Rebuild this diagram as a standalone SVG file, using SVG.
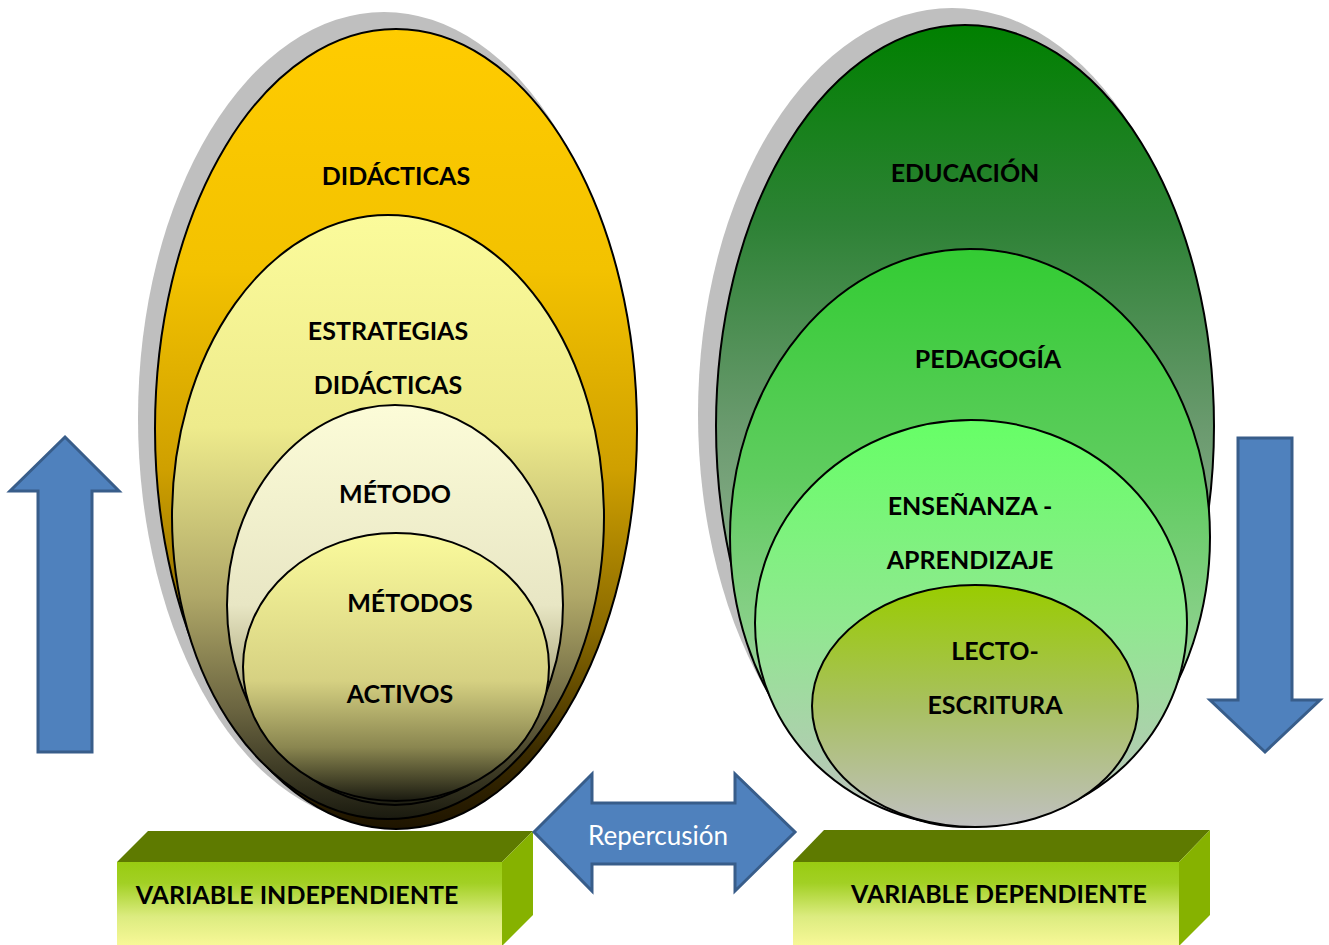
<svg xmlns="http://www.w3.org/2000/svg" width="1329" height="945" viewBox="0 0 1329 945">
<defs>
<linearGradient id="gO" x1="0" y1="0" x2="0" y2="1">
<stop offset="0" stop-color="#FFCC00"/><stop offset="0.3" stop-color="#F3C200"/><stop offset="0.55" stop-color="#CFA000"/><stop offset="0.75" stop-color="#8A6A00"/><stop offset="0.9" stop-color="#3D2D00"/><stop offset="1" stop-color="#1E1400"/>
</linearGradient>
<linearGradient id="gY2" x1="0" y1="0" x2="0" y2="1">
<stop offset="0" stop-color="#FBFB9B"/><stop offset="0.35" stop-color="#EEEB8C"/><stop offset="0.63" stop-color="#B0A868"/><stop offset="0.82" stop-color="#6A6440"/><stop offset="1" stop-color="#1A1A0F"/>
</linearGradient>
<linearGradient id="gY3" x1="0" y1="0" x2="0" y2="1">
<stop offset="0" stop-color="#FCFCD8"/><stop offset="0.5" stop-color="#E8E6C4"/><stop offset="0.75" stop-color="#A09C70"/><stop offset="1" stop-color="#1E1E12"/>
</linearGradient>
<linearGradient id="gY4" x1="0" y1="0" x2="0" y2="1">
<stop offset="0" stop-color="#FAFA9C"/><stop offset="0.55" stop-color="#D6D182"/><stop offset="0.8" stop-color="#8A8650"/><stop offset="1" stop-color="#1A1A10"/>
</linearGradient>
<linearGradient id="gG1" x1="0" y1="0" x2="0" y2="1">
<stop offset="0" stop-color="#008000"/><stop offset="0.25" stop-color="#2E8236"/><stop offset="0.5" stop-color="#6A9A6E"/><stop offset="0.75" stop-color="#98B898"/><stop offset="1" stop-color="#C0C8C0"/>
</linearGradient>
<linearGradient id="gG2" x1="0" y1="0" x2="0" y2="1">
<stop offset="0" stop-color="#33CC33"/><stop offset="0.4" stop-color="#60CC60"/><stop offset="0.7" stop-color="#90D090"/><stop offset="1" stop-color="#C0C8C0"/>
</linearGradient>
<linearGradient id="gG3" x1="0" y1="0" x2="0" y2="1">
<stop offset="0" stop-color="#66FF66"/><stop offset="0.5" stop-color="#90E890"/><stop offset="1" stop-color="#C0C0C0"/>
</linearGradient>
<linearGradient id="gG4" x1="0" y1="0" x2="0" y2="1">
<stop offset="0" stop-color="#99CC00"/><stop offset="0.5" stop-color="#A8C060"/><stop offset="1" stop-color="#C0C0C0"/>
</linearGradient>
<linearGradient id="gBox" x1="0" y1="0" x2="0" y2="1">
<stop offset="0" stop-color="#99CC11"/><stop offset="0.25" stop-color="#A2D024"/><stop offset="0.65" stop-color="#DCEC80"/><stop offset="1" stop-color="#F8F898"/>
</linearGradient>
<style>
.e{stroke:#000;stroke-width:2}
.sh{fill:#BFBFBF}
.t{font-family:Lato,"Liberation Sans",sans-serif;font-weight:bold;font-size:25px;fill:#000;text-anchor:middle}
.arr{fill:#4F81BD;stroke:#385D8A;stroke-width:3;stroke-linejoin:miter}
.top{fill:#5E7A00}
.side{fill:#86B200}
.front{fill:url(#gBox)}
</style>
</defs>

<g id="left-ellipses">
<ellipse class="sh" cx="384" cy="418" rx="246" ry="406"/>
<g id="didacticas">
<ellipse class="e" fill="url(#gO)" cx="396" cy="429" rx="241" ry="400"/>
<text class="t" x="396" y="185">DIDÁCTICAS</text>
</g>
<g id="estrategias">
<ellipse class="e" fill="url(#gY2)" cx="388" cy="517" rx="216" ry="302"/>
<text class="t" x="388" y="340">ESTRATEGIAS</text>
<text class="t" x="388" y="394">DIDÁCTICAS</text>
</g>
<g id="metodo">
<ellipse class="e" fill="url(#gY3)" cx="395" cy="605" rx="168" ry="200"/>
<text class="t" x="395" y="503">MÉTODO</text>
</g>
<g id="metodos-activos">
<ellipse class="e" fill="url(#gY4)" cx="396" cy="667" rx="153" ry="134"/>
<text class="t" x="410" y="612">MÉTODOS</text>
<text class="t" x="400" y="703">ACTIVOS</text>
</g>
</g>

<g id="right-ellipses">
<ellipse class="sh" cx="952" cy="414" rx="254" ry="406"/>
<g id="educacion">
<ellipse class="e" fill="url(#gG1)" cx="965" cy="426" rx="249" ry="401"/>
<text class="t" x="965" y="182">EDUCACIÓN</text>
</g>
<g id="pedagogia">
<ellipse class="e" fill="url(#gG2)" cx="970" cy="537" rx="240" ry="288"/>
<text class="t" x="988" y="368">PEDAGOGÍA</text>
</g>
<g id="ensenanza">
<ellipse class="e" fill="url(#gG3)" cx="971" cy="623" rx="216" ry="203"/>
<text class="t" x="970" y="515">ENSEÑANZA -</text>
<text class="t" x="970" y="569">APRENDIZAJE</text>
</g>
<g id="lectoescritura">
<ellipse class="e" fill="url(#gG4)" cx="975" cy="706" rx="163" ry="121"/>
<text class="t" x="995" y="660">LECTO-</text>
<text class="t" x="995" y="714">ESCRITURA</text>
</g>
</g>

<g id="var-independiente">
<polygon class="top" points="117,862 148,831 533,831 502,862"/>
<polygon class="side" points="502,862 533,831 533,915 502,946"/>
<rect class="front" x="117" y="862" width="385" height="84"/>
<text class="t" x="297" y="904">VARIABLE INDEPENDIENTE</text>
</g>

<g id="var-dependiente">
<polygon class="top" points="793,862 824,830 1210,830 1179,862"/>
<polygon class="side" points="1179,862 1210,830 1210,915 1179,946"/>
<rect class="front" x="793" y="862" width="386" height="84"/>
<text class="t" x="999" y="903">VARIABLE DEPENDIENTE</text>
</g>

<g id="connectors">
<polygon class="arr" points="65,437 119,491 92,491 92,752 38,752 38,491 10,491"/>
<polygon class="arr" points="1238,438 1292,438 1292,700 1320,700 1265,752 1210,700 1238,700"/>
<polygon class="arr" points="534,832 592,774 592,803 735,803 735,774 795,832 735,891 735,864 592,864 592,891"/>
<text x="658" y="845" font-family="Lato,'Liberation Sans',sans-serif" font-size="26" fill="#FFFFFF" text-anchor="middle">Repercusión</text>
</g>
</svg>
